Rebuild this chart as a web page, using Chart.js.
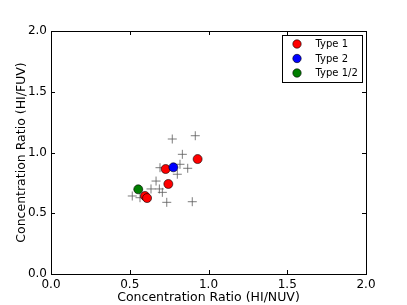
<!DOCTYPE html>
<html>
<head>
<meta charset="utf-8">
<script src="https://cdn.jsdelivr.net/npm/chart.js@4/dist/chart.umd.min.js"></script>
<style>
  html, body { margin: 0; padding: 0; background: #fff; }
  #wrap { width: 407px; height: 305px; }
</style>
</head>
<body>
<div id="wrap"><canvas id="chart" width="407" height="305"></canvas></div>
<script>
// data
const type1_x = [0.931, 0.728, 0.745, 0.597, 0.610];
const type1_y = [0.946, 0.864, 0.741, 0.642, 0.625];
const type2_x = [0.777];
const type2_y = [0.878];
const type12_x = [0.554];
const type12_y = [0.697];
// grey "+" sample
const other_x = [0.770, 0.916, 0.834, 0.692, 0.819, 0.802, 0.868, 0.667, 0.635, 0.688, 0.707, 0.516, 0.565, 0.735, 0.897];
const other_y = [1.111, 1.138, 0.985, 0.875, 0.903, 0.821, 0.870, 0.765, 0.700, 0.700, 0.672, 0.642, 0.628, 0.590, 0.595];
const axis_ticks = [0, 0.5, 1.0, 1.5, 2.0];

const font = "'DejaVu Sans', sans-serif";

function pts(xs, ys) {
    return xs.map((x, i) => ({x: x, y: ys[i]}));
}

const legend_items = [
    {name: 'Type 1', color: '#ff0000'},
    {name: 'Type 2', color: '#0000ff'},
    {name: 'Type 1/2', color: '#007f00'}
];

// frame, inward ticks on all sides, boxed legend
const framePlugin = {
    id: 'frame',
    afterDatasetsDraw(chart) {
        const ctx = chart.ctx;
        const a = chart.chartArea;
        const xs = chart.scales.x, ys = chart.scales.y;
        ctx.save();
        ctx.strokeStyle = '#000';
        ctx.lineWidth = 1;
        ctx.strokeRect(Math.round(a.left) + 0.5, Math.round(a.top) + 0.5,
            Math.round(a.right - a.left), Math.round(a.bottom - a.top));
        ctx.beginPath();
        axis_ticks.forEach((v) => {
            const px = Math.round(xs.getPixelForValue(v)) + 0.5;
            ctx.moveTo(px, a.bottom); ctx.lineTo(px, a.bottom - 4);
            ctx.moveTo(px, a.top); ctx.lineTo(px, a.top + 4);
            const py = Math.round(ys.getPixelForValue(v)) + 0.5;
            ctx.moveTo(a.left, py); ctx.lineTo(a.left + 4, py);
            ctx.moveTo(a.right, py); ctx.lineTo(a.right - 4, py);
        });
        ctx.stroke();

        // legend
        const lx = 282.5, ly = 35.5, lw = 80, lh = 47;
        ctx.fillStyle = '#fff';
        ctx.fillRect(lx, ly, lw, lh);
        ctx.strokeRect(lx, ly, lw, lh);
        ctx.font = '10px ' + font;
        ctx.textBaseline = 'middle';
        legend_items.forEach((it, i) => {
            const cy = 44 + i * 14.5;
            ctx.beginPath();
            ctx.arc(297, cy, 4.2, 0, Math.PI * 2);
            ctx.fillStyle = it.color;
            ctx.fill();
            ctx.lineWidth = 0.6;
            ctx.strokeStyle = '#000';
            ctx.stroke();
            ctx.fillStyle = '#000';
            ctx.fillText(it.name, 315.5, cy + 0.5);
        });
        ctx.restore();
    }
};

const ctx = document.querySelector('#chart').getContext('2d');
const chartobj = new Chart(ctx, {
    type: 'scatter',
    data: {
        datasets: [
            {label: 'Type 1/2', data: pts(type12_x, type12_y), pointStyle: 'circle', pointRadius: 4.5,
             backgroundColor: '#007f00', borderColor: '#000', borderWidth: 0.6},
            {label: 'Type 2', data: pts(type2_x, type2_y), pointStyle: 'circle', pointRadius: 4.5,
             backgroundColor: '#0000ff', borderColor: '#000', borderWidth: 0.6},
            {label: 'Type 1', data: pts(type1_x, type1_y), pointStyle: 'circle', pointRadius: 4.5,
             backgroundColor: '#ff0000', borderColor: '#000', borderWidth: 0.6},
            {label: 'Other', data: pts(other_x, other_y), pointStyle: 'cross', pointRadius: 4.5,
             backgroundColor: 'rgba(90,90,90,0.8)', borderColor: 'rgba(90,90,90,0.8)', borderWidth: 1}
        ]
    },
    options: {
        responsive: false,
        animation: false,
        layout: {padding: {top: 31, right: 41, left: 14, bottom: 0}},
        plugins: {
            legend: {display: false},
            tooltip: {enabled: false}
        },
        scales: {
            x: {
                type: 'linear', min: 0, max: 2,
                afterBuildTicks: (s) => { s.ticks = axis_ticks.map((v) => ({value: v})); },
                afterFit: (s) => { s.height = 31; },
                grid: {display: false, drawTicks: false},
                border: {display: false},
                ticks: {color: '#000', font: {family: font, size: 12}, padding: 4,
                        maxRotation: 0, callback: (v) => v.toFixed(1)},
                title: {display: true, text: 'Concentration Ratio (HI/NUV)', color: '#000',
                        font: {family: font, size: 12.5}, padding: {top: 0, bottom: 0}}
            },
            y: {
                type: 'linear', min: 0, max: 2,
                afterBuildTicks: (s) => { s.ticks = axis_ticks.map((v) => ({value: v})); },
                afterFit: (s) => { s.width = 37; },
                grid: {display: false, drawTicks: false},
                border: {display: false},
                ticks: {color: '#000', font: {family: font, size: 12}, padding: 4,
                        callback: (v) => v.toFixed(1)},
                title: {display: true, text: 'Concentration Ratio (HI/FUV)', color: '#000',
                        font: {family: font, size: 12.5}, padding: {top: 0, bottom: 0}}
            }
        }
    },
    plugins: [framePlugin]
});
</script>
</body>
</html>
